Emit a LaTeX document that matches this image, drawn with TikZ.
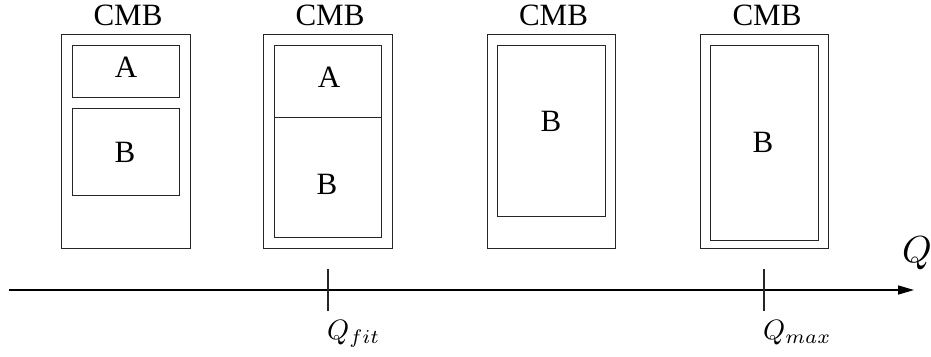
\documentclass[tikz,border=0pt]{standalone}
\usepackage{fontspec}
\setmainfont{Liberation Serif}
\usetikzlibrary{arrows.meta}

\begin{document}
\begin{tikzpicture}[x=1pt,y=-1pt,
  outerbox/.style={draw=black!85, line width=1pt, minimum width=128.5pt, minimum height=214pt, inner sep=0pt},
  innerbox/.style={draw=black!85, line width=1pt, minimum width=107.5pt, inner sep=0pt},
  lbl/.style={inner sep=0pt, font=\fontsize{31}{36}\selectfont},
  mlbl/.style={inner sep=0pt, anchor=base west},
  axis/.style={line width=1.5pt, -{Triangle[length=16pt,width=9pt]}},
  tick/.style={line width=1.2pt, draw=black!85}]

  \useasboundingbox (0,0) rectangle (931,356);

  % container outlines
  \node[outerbox] (o1) at (125.75,141) {};
  \node[outerbox] (o2) at (327.75,141) {};
  \node[outerbox] (o3) at (551.5,141) {};
  \node[outerbox] (o4) at (764.25,141) {};

  % headings
  \node[lbl] (c1) at (128,15) {CMB};
  \node[lbl] (c2) at (330,15) {CMB};
  \node[lbl] (c3) at (553.5,15) {CMB};
  \node[lbl] (c4) at (767,15) {CMB};

  % first container: separate A and B
  \node[innerbox, minimum height=52pt] (a1) at (125.75,71) {};
  \node[innerbox, minimum height=86.5pt] (b1) at (125.75,151.75) {};
  \node[lbl] (ta1) at (126,67) {A};
  \node[lbl] (tb1) at (125,152.5) {B};

  % second container: A and B filling it
  \node[innerbox, minimum height=72pt] (a2) at (327.75,81) {};
  \node[innerbox, minimum height=120pt] (b2) at (327.75,177) {};
  \node[lbl] (ta2) at (329,77.5) {A};
  \node[lbl] (tb2) at (327,184) {B};

  % third container: B only
  \node[innerbox, minimum width=108pt, minimum height=171pt] (b3) at (551.5,130.5) {};
  \node[lbl] (tb3) at (551,121) {B};

  % fourth container: B at full size
  \node[innerbox, minimum height=195pt] (b4) at (764.25,142.5) {};
  \node[lbl] (tb4) at (763,142.5) {B};

  % axis
  \coordinate (ax0) at (9,290);
  \coordinate (ax1) at (914,290);
  \draw[axis] (ax0) -- (ax1);
  \node[mlbl] (qlab) at (902,262.7) {\scalebox{3.76}{$Q$}};

  % ticks
  \coordinate (t1a) at (328,269);
  \coordinate (t1b) at (328,311);
  \coordinate (t2a) at (764,269);
  \coordinate (t2b) at (764,311);
  \draw[tick] (t1a) -- (t1b);
  \draw[tick] (t2a) -- (t2b);
  \node[mlbl] (qfit) at (327,339) {\scalebox{2.8}{$Q_{fit}$}};
  \node[mlbl] (qmax) at (763,339) {\scalebox{2.8}{$Q_{max}$}};
\end{tikzpicture}
\end{document}
